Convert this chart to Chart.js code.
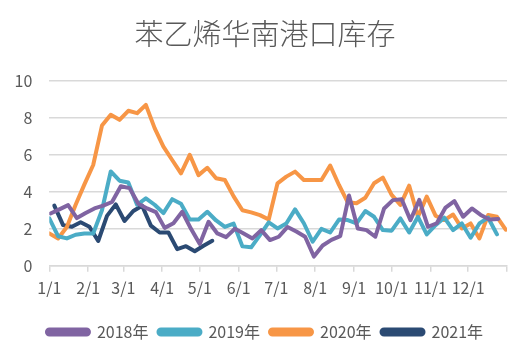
<!DOCTYPE html>
<html>
<head>
<meta charset="utf-8">
<script src="https://cdn.jsdelivr.net/npm/chart.js@4.4.1/dist/chart.umd.min.js"></script>
<style>
  html, body { margin:0; padding:0; background:#fff; }
  #wrap { width:530px; height:361px; }
</style>
</head>
<body>
<div id="wrap"><canvas id="chart" width="530" height="361"></canvas></div>
<script>
// Month starts on the date axis (day of year) and their labels
const monthDays   = [0, 31, 59, 90, 120, 151, 181, 212, 243, 273, 304, 334, 365];
const monthLabels = ['1/1','2/1','3/1','4/1','5/1','6/1','7/1','8/1','9/1','10/1','11/1','12/1',''];

// Weekly readings (first reading day of year, then one per week)
const start2018 = 1, start2019 = 0, start2020 = 0, start2021 = 4;

const v2018 = [2.83,3.05,3.28,2.58,2.85,3.1,3.25,3.45,4.3,4.2,3.35,3.1,2.9,2.05,2.3,2.92,2.0,1.18,2.38,1.75,
               1.55,2.0,1.75,1.48,1.93,1.39,1.57,2.1,1.85,1.57,0.5,1.1,1.4,1.6,3.8,2.02,1.93,1.57,3.1,3.55,
               3.6,2.47,3.56,2.11,2.3,3.15,3.5,2.65,3.1,2.75,2.5,2.53];
const v2019 = [2.56,1.6,1.48,1.68,1.75,1.75,3.0,5.1,4.6,4.5,3.3,3.65,3.3,2.85,3.6,3.35,2.5,2.5,2.92,2.45,
               2.1,2.28,1.05,1.0,1.66,2.35,2.02,2.29,3.05,2.3,1.3,2.0,1.8,2.5,2.47,2.29,2.96,2.65,1.93,1.9,
               2.56,1.8,2.65,1.7,2.2,2.6,1.93,2.29,1.52,2.29,2.6,1.7];
const v2020 = [1.75,1.48,2.1,3.3,4.4,5.45,7.58,8.16,7.89,8.38,8.25,8.7,7.44,6.44,5.72,5.0,6.0,4.9,5.3,4.73,
               4.64,3.75,3.0,2.89,2.74,2.5,4.46,4.82,5.09,4.64,4.64,4.64,5.42,4.37,3.43,3.38,3.68,4.46,4.77,3.83,
               3.29,4.33,2.65,3.74,2.71,2.47,2.77,2.02,2.29,1.48,2.75,2.65,1.95];
const v2021 = [3.25,2.2,2.11,2.35,2.11,1.34,2.7,3.32,2.42,2.96,3.25,2.17,1.8,1.8,0.9,1.06,0.79,1.08,1.35];

const C = { p2018:'#8064A2', p2019:'#4BACC6', p2020:'#F79646', p2021:'#2B4A73', text:'#595959', grid:'#D9D9D9' };
const FONT = "'Noto Sans CJK SC', 'Noto Sans', sans-serif";

function weekly(first, vals) { return vals.map((y, i) => ({ x: first + 7 * i, y })); }

function line(label, first, vals, color) {
  return { label, data: weekly(first, vals), borderColor: color, backgroundColor: color,
           borderWidth: 4, pointRadius: 0, pointHoverRadius: 0, tension: 0,
           borderJoinStyle: 'round', borderCapStyle: 'round', fill: false };
}

// title and legend are centred on the whole canvas, not on the padded box
const centreBlocks = {
  id: 'centreBlocks',
  afterLayout(chart) {
    [chart.titleBlock, chart.legend].forEach(b => { if (b) { b.left = 0; b.right = chart.width; } });
  }
};

new Chart(document.getElementById('chart').getContext('2d'), {
  type: 'line',
  data: { datasets: [
    line('2018年', start2018, v2018, C.p2018),
    line('2019年', start2019, v2019, C.p2019),
    line('2020年', start2020, v2020, C.p2020),
    line('2021年', start2021, v2021, C.p2021),
  ]},
  plugins: [centreBlocks],
  options: {
    responsive: false, animation: false,
    layout: { padding: { left: 0, right: 23, top: 0, bottom: 11 } },
    plugins: {
      title: { display: true, text: '苯乙烯华南港口库存', color: C.text,
               font: { family: FONT, size: 29, weight: '300' }, padding: { top: 17, bottom: 29 } },
      legend: { position: 'bottom',
        labels: { color: C.text, font: { family: FONT, size: 16 }, boxWidth: 42, boxHeight: 5,
                  padding: 10, useBorderRadius: true, borderRadius: 2.5 } },
      tooltip: { enabled: false }
    },
    scales: {
      x: { type: 'linear', min: 0, max: 365,
        afterBuildTicks: ax => { ax.ticks = monthDays.map(v => ({ value: v })); },
        afterFit: ax => { ax.height += 9; },
        ticks: { autoSkip: false, maxRotation: 0, color: C.text, font: { family: FONT, size: 16 }, padding: 7,
                 callback: v => monthLabels[monthDays.indexOf(v)] ?? '' },
        grid: { drawOnChartArea: false, drawTicks: true, tickLength: 6, color: C.grid, lineWidth: 1.5 },
        border: { display: true, color: C.grid, width: 1.5 } },
      y: { min: 0, max: 10,
        afterFit: ax => { ax.width = 49.3; },
        ticks: { stepSize: 2, color: C.text, font: { family: FONT, size: 16 }, padding: 17 },
        grid: { color: C.grid, lineWidth: 1.5, drawTicks: false },
        border: { display: false } }
    }
  }
});
</script>
</body>
</html>
